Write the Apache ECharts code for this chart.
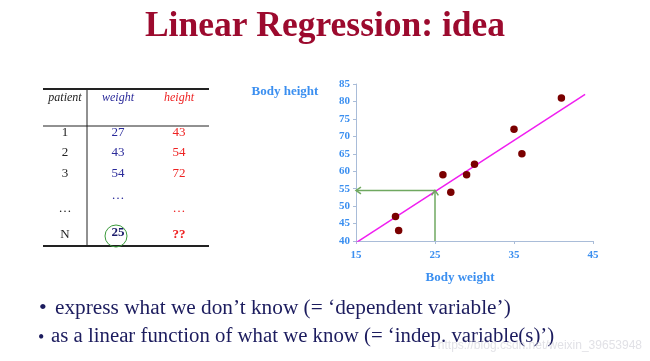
<!DOCTYPE html>
<html>
<head>
<meta charset="utf-8">
<script src="https://cdn.jsdelivr.net/npm/echarts@6/dist/echarts.min.js"></script>
<style>html,body{margin:0;padding:0;background:#fff;}#main{width:650px;height:361px;}</style>
</head>
<body>
<div id="main"></div>
<script>
// ---- data ----
const titleText = 'Linear Regression: idea';
const tableHeaders = ['patient', 'weight', 'height'];
const patientIds = ['1', '2', '3', '…', 'N'];
const patientWeights = ['27', '43', '54', '…', '25'];
const patientHeights = ['43', '54', '72', '…', '??'];
const weightObs = [20, 20.4, 26, 27, 29, 30, 35, 36, 41];
const heightObs = [47, 43, 59, 54, 59, 62, 72, 65, 81];
const fitX = [15, 44];
const fitY = [39.5, 82];
const predictX = 25;
const predictY = 54.5;
const xTicks = [15, 25, 35, 45];
const yTicks = [40, 45, 50, 55, 60, 65, 70, 75, 80, 85];
const xName = 'Body weight';
const yName = 'Body height';
const bullets = ['express what we don\u2019t know (= \u2018dependent variable\u2019)', 'as a linear function of what we know (= \u2018indep. variable(s)\u2019)'];
const watermark = 'https://blog.csdn.net/weixin_39653948';

// ---- build ----
const SERIF = '"Liberation Serif","Times New Roman",serif';
const blue = '#3b8ff0';
const navy = '#1c1c5e';
const chart = echarts.init(document.getElementById('main'));

const graphics = [];
// table lines
graphics.push({type:'line', shape:{x1:43,y1:89,x2:209,y2:89}, style:{stroke:'#222',lineWidth:2}});
graphics.push({type:'line', shape:{x1:43,y1:126,x2:209,y2:126}, style:{stroke:'#222',lineWidth:1}});
graphics.push({type:'line', shape:{x1:43,y1:246,x2:209,y2:246}, style:{stroke:'#222',lineWidth:2}});
graphics.push({type:'line', shape:{x1:87,y1:89,x2:87,y2:246}, style:{stroke:'#222',lineWidth:1}});
const colX = [65, 118, 179];
const headColors = ['#222', '#2a2a9a', '#ee2222'];
tableHeaders.forEach((h, i) => {
  graphics.push({type:'text', x:colX[i], y:98, style:{text:h, font:'italic 12px '+SERIF, fill:headColors[i], textAlign:'center', textVerticalAlign:'middle'}});
});
const rowY = [133, 153, 174, 209, 235];
patientIds.forEach((p, r) => {
  const last = r === patientIds.length - 1;
  graphics.push({type:'text', x:colX[0], y:rowY[r], style:{text:p, font:'13px '+SERIF, fill:'#222', textAlign:'center', textVerticalAlign:'middle'}});
  const wy = patientWeights[r] === '…' ? 196 : rowY[r];
  graphics.push({type:'text', x:colX[1], y:wy - (last ? 2 : 0), style:{text:patientWeights[r], font:(last?'bold ':'')+'13px '+SERIF, fill:last?'#1a1a6a':'#2a2a9a', textAlign:'center', textVerticalAlign:'middle'}});
  graphics.push({type:'text', x:colX[2], y:rowY[r], style:{text:patientHeights[r], font:(last?'bold ':'')+'13px '+SERIF, fill:'#ee2222', textAlign:'center', textVerticalAlign:'middle'}});
});
graphics.push({type:'circle', shape:{cx:116, cy:236, r:11}, style:{fill:'none', stroke:'#3a9a3a', lineWidth:1}});
// axis names
graphics.push({type:'text', x:285, y:92, style:{text:yName, font:'bold 13px '+SERIF, fill:blue, textAlign:'center', textVerticalAlign:'middle'}});
graphics.push({type:'text', x:460, y:278, style:{text:xName, font:'bold 13px '+SERIF, fill:blue, textAlign:'center', textVerticalAlign:'middle'}});
// bullets
graphics.push({type:'text', x:39, y:308, style:{text:'\u2022', font:'22px '+SERIF, fill:navy, textVerticalAlign:'middle'}});
graphics.push({type:'text', x:55, y:308, style:{text:bullets[0], font:'21.3px '+SERIF, fill:navy, textVerticalAlign:'middle'}});
graphics.push({type:'text', x:38, y:338, style:{text:'\u2022', font:'18px '+SERIF, fill:navy, textVerticalAlign:'middle'}});
graphics.push({type:'text', x:51, y:337, style:{text:bullets[1], font:'20.8px '+SERIF, fill:navy, textVerticalAlign:'middle'}});
graphics.push({type:'text', x:642, y:346, style:{text:watermark, font:'12px "Liberation Sans",sans-serif', fill:'rgba(200,200,210,0.55)', textAlign:'right', textVerticalAlign:'middle'}});

const axisCommon = {
  axisLine:{show:true, lineStyle:{color:'#a9bcd8', width:1}},
  axisTick:{show:true, length:3, lineStyle:{color:'#a9bcd8'}},
  splitLine:{show:false},
  axisLabel:{color:blue, fontFamily:SERIF, fontWeight:'bold', fontSize:11}
};

const option = {
  animation:false,
  backgroundColor:'#fff',
  title:{text:titleText, left:'center', top:4, textStyle:{fontFamily:SERIF, fontWeight:'bold', fontSize:35.5, color:'#9c0a2e'}},
  grid:{left:356, right:57, top:84, bottom:120},
  xAxis:Object.assign({type:'value', min:xTicks[0], max:xTicks[xTicks.length-1], interval:xTicks[1]-xTicks[0]}, axisCommon, {axisLabel:Object.assign({}, axisCommon.axisLabel, {margin:9})}),
  yAxis:Object.assign({type:'value', min:yTicks[0], max:yTicks[yTicks.length-1], interval:yTicks[1]-yTicks[0]}, axisCommon, {axisLabel:Object.assign({}, axisCommon.axisLabel, {margin:6})}),
  graphic:graphics,
  series:[
    {type:'line', data:fitX.map((x,i)=>[x, fitY[i]]), symbol:'none', lineStyle:{color:'#f01ef0', width:1.5}, z:2},
    {type:'custom', z:3,
      data:[[predictX, yTicks[0], predictX, predictY], [predictX, predictY, xTicks[0], predictY]],
      renderItem:function(params, api){
        const a = api.coord([api.value(0), api.value(1)]);
        const b = api.coord([api.value(2), api.value(3)]);
        const ang = Math.atan2(b[1]-a[1], b[0]-a[0]);
        const L = 6, w = 0.6;
        const p1 = [b[0]-L*Math.cos(ang-w), b[1]-L*Math.sin(ang-w)];
        const p2 = [b[0]-L*Math.cos(ang+w), b[1]-L*Math.sin(ang+w)];
        return {type:'group', children:[
          {type:'line', shape:{x1:a[0],y1:a[1],x2:b[0],y2:b[1]}, style:{stroke:'#6fa860', lineWidth:1.5}},
          {type:'polyline', shape:{points:[p1,b,p2]}, style:{stroke:'#6fa860', lineWidth:1.5, fill:'none'}}
        ]};
      }
    },
    {type:'scatter', data:weightObs.map((x,i)=>[x, heightObs[i]]), symbolSize:7.5, itemStyle:{color:'#7a0000', opacity:1}, z:4}
  ]
};
chart.setOption(option);
</script>
</body>
</html>
